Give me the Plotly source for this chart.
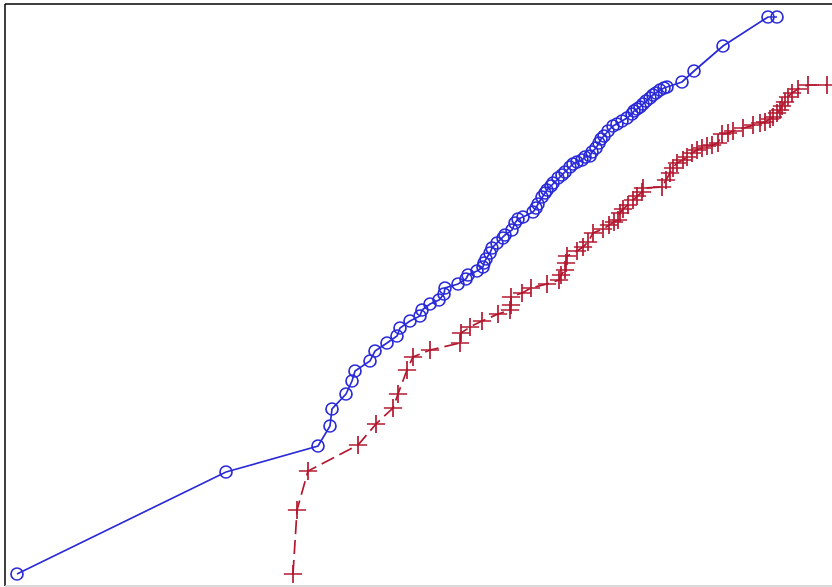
import plotly.graph_objects as go

# Readings from the reference (x: horizontal units, y: vertical units, origin bottom-left)
blue_px = [17,226,318,330,332,346,352,355,370,375,387,397,400,410,420,422,430,439,444,445,
           458,466,468,477,483,484,486,490,492,497,503,505,512,515,518,523,533,536,538,542,
           545,547,551,553,558,562,565,570,573,577,582,585,590,592,596,599,601,604,608,613,
           617,622,627,632,634,637,640,643,646,650,653,656,660,664,667,682,694,723,768,777]
blue_py = [574,472,446,426,409,394,381,371,361,351,343,336,328,321,316,310,304,300,294,288,
           284,279,275,271,267,263,259,253,248,243,238,235,230,223,219,217,212,208,204,197,
           193,190,186,183,178,175,172,167,164,162,160,157,156,152,148,143,139,136,131,126,
           124,121,118,114,111,109,107,104,101,98,95,93,90,88,87,82,71,46,17,17]

red_px = [293,297,308,358,376,393,398,407,413,430,460,461,470,482,498,510,511,511,522,531,
          547,559,561,565,566,567,577,583,588,593,603,609,614,618,620,623,628,633,637,642,
          643,662,666,670,673,677,683,687,692,697,702,707,712,718,722,728,733,743,753,760,
          765,770,773,777,780,782,785,788,792,798,808,827]
red_py = [574,510,471,445,424,408,394,370,357,350,343,333,327,321,314,310,305,297,293,288,
          284,280,275,270,263,256,251,247,242,233,229,225,222,220,213,209,205,200,196,192,
          188,187,180,173,168,163,160,157,153,150,148,146,145,143,134,133,131,128,125,123,
          122,119,117,113,110,106,102,97,93,89,85,85]

blue_x = [p - 5 for p in blue_px]
blue_y = [586 - p for p in blue_py]
red_x = [p - 5 for p in red_px]
red_y = [586 - p for p in red_py]

BLUE = "#2a2ad8"
RED = "#b3172f"

fig = go.Figure()
fig.add_trace(go.Scatter(
    x=blue_x, y=blue_y, mode="lines+markers",
    line=dict(color=BLUE, width=1.7),
    marker=dict(symbol="circle-open", size=12, color=BLUE, line=dict(width=1.7, color=BLUE)),
    showlegend=False, hoverinfo="skip",
))
fig.add_trace(go.Scatter(
    x=red_x, y=red_y, mode="lines+markers",
    line=dict(color=RED, width=1.7, dash="14px,6px"),
    marker=dict(symbol="cross-thin-open", size=13, color=RED, line=dict(width=1.7, color=RED)),
    showlegend=False, hoverinfo="skip",
))

fig.update_layout(
    width=832, height=587,
    margin=dict(l=5, r=0, t=4, b=1),
    paper_bgcolor="white", plot_bgcolor="white",
    xaxis=dict(range=[0, 827], showgrid=False, zeroline=False, showticklabels=False, ticks=""),
    yaxis=dict(range=[0, 582], showgrid=False, zeroline=False, showticklabels=False, ticks=""),
    shapes=[
        dict(type="line", xref="paper", yref="paper", x0=0, y0=0, x1=0, y1=1,
             line=dict(color="black", width=1.5)),
        dict(type="line", xref="paper", yref="paper", x0=0, y0=1, x1=1, y1=1,
             line=dict(color="black", width=1.5)),
        dict(type="line", xref="paper", yref="paper", x0=0, y0=0, x1=1, y1=0,
             line=dict(color="#cccccc", width=1.5)),
    ],
)

fig.write_html("out.html", config={"displayModeBar": False},
               post_script="document.body.style.margin='0';document.body.style.overflow='hidden';")
